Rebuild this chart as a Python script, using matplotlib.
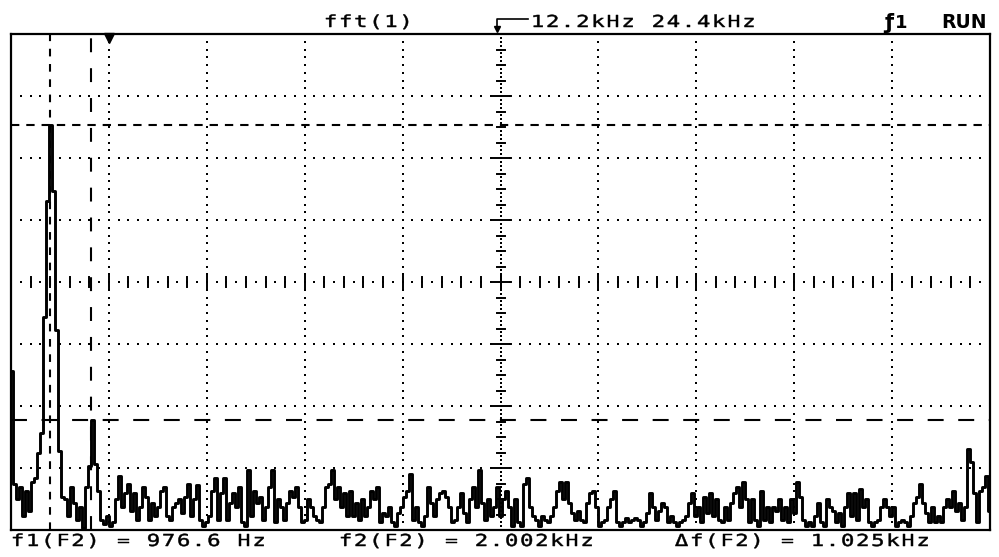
import numpy as np
import matplotlib
matplotlib.use("Agg")
import matplotlib.pyplot as plt
from matplotlib.lines import Line2D
from matplotlib.textpath import TextPath
from matplotlib.patches import PathPatch
from matplotlib.font_manager import FontProperties
from matplotlib.transforms import Affine2D

plt.rcParams["lines.scale_dashes"] = False

# FFT trace in screen counts (32 counts per vertical division), read off the display,
# one value every ~0.075 kHz from 0 to 24.4 kHz
spectrum = [
    82, 24, 16, 22, 7, 20, 10, 25, 27, 40,
    50, 110, 170, 209, 175, 103, 41, 17, 16, 7,
    22, 14, 5, 12, 1, 22, 33, 57, 34, 20,
    5, 3, 7, 2, 4, 16, 28, 12, 19, 24,
    10, 19, 5, 12, 22, 17, 5, 14, 7, 12,
    20, 22, 7, 5, 12, 14, 16, 9, 17, 24,
    7, 16, 23, 5, 2, 4, 7, 20, 27, 5,
    19, 27, 5, 14, 19, 12, 22, 4, 2, 31,
    7, 20, 14, 17, 5, 12, 22, 31, 4, 16,
    12, 5, 14, 20, 17, 22, 12, 4, 5, 16,
    12, 7, 5, 4, 12, 22, 24, 31, 16, 22,
    12, 19, 7, 20, 7, 14, 5, 16, 7, 12,
    20, 16, 22, 4, 9, 7, 12, 4, 2, 9,
    12, 17, 20, 29, 5, 12, 4, 2, 7, 22,
    14, 7, 16, 19, 20, 17, 12, 4, 5, 12,
    19, 9, 4, 16, 22, 12, 31, 14, 5, 16,
    7, 12, 22, 7, 16, 20, 12, 2, 16, 4,
    2, 24, 27, 12, 7, 5, 2, 7, 5, 4,
    7, 12, 20, 25, 16, 25, 14, 9, 5, 10,
    5, 4, 14, 19, 20, 12, 2, 4, 5, 12,
    16, 20, 4, 2, 4, 6, 4, 5, 6, 5,
    2, 4, 9, 19, 12, 5, 10, 14, 12, 4,
    7, 4, 2, 4, 5, 7, 14, 19, 7, 12,
    4, 17, 9, 19, 7, 16, 5, 4, 12, 5,
    14, 19, 22, 12, 25, 16, 4, 16, 5, 2,
    20, 5, 12, 4, 12, 10, 16, 5, 12, 4,
    16, 9, 25, 17, 5, 2, 4, 2, 7, 14,
    4, 2, 16, 12, 10, 4, 9, 2, 12, 19,
    7, 19, 5, 21, 12, 16, 4, 2, 4, 5,
    12, 16, 12, 7, 12, 2, 4, 5, 4, 2,
    7, 14, 17, 24, 14, 9, 4, 12, 4, 7,
    4, 12, 16, 12, 20, 10, 14, 5, 12, 42,
    35, 19, 4, 20, 22, 28, 10,
]

span_khz = 24.4
f1_khz = 0.9766      # cursor f1
f2_khz = 2.002       # cursor f2
y1_level = 209       # upper level cursor
y2_level = 57        # lower level cursor
marker_khz = 2.44    # top marker

title = "fft(1)"
freq_label = "12.2kHz 24.4kHz"
readouts = ["f1(F2) = 976.6 Hz", "f2(F2) = 2.002kHz", "\u0394f(F2) = 1.025kHz"]

W, H = 999, 557
fig = plt.figure(figsize=(W / 100, H / 100), dpi=100)
fig.patch.set_facecolor("white")
ax = fig.add_axes([11 / W, 1 - 530 / H, 979 / W, 496 / H])
ax.set_xlim(0, span_khz)
ax.set_ylim(0, 256)
ax.set_xticks([])
ax.set_yticks([])
for s in ax.spines.values():
    s.set_linewidth(1.6)

xdiv = span_khz / 10
ydiv = 32.0
xc, yc = 5 * xdiv, 4 * ydiv
px_x = span_khz / 979   # kHz per pixel
px_y = 256 / 496        # counts per pixel

dot = dict(marker="s", s=2.0, c="k", linewidths=0, zorder=1)
# dotted graticule
for i in range(1, 10):
    if i == 5:
        continue
    ys = np.arange(0, 256, ydiv / 8)
    ax.scatter(np.full_like(ys, i * xdiv), ys, **dot)
for j in range(1, 8):
    xs = np.arange(xdiv / 10, span_khz, xdiv / 10)
    if j == 4:
        continue
    ax.scatter(xs, np.full_like(xs, j * ydiv), **dot)

# centre axes with ticks
xs = np.arange(xdiv / 10, span_khz, xdiv / 10)
ax.scatter(xs, np.full_like(xs, yc), **dot)
ys = np.arange(ydiv / 16, 256, ydiv / 16)
ax.scatter(np.full_like(ys, xc), ys, **dot)
for k, x in enumerate(np.arange(xdiv / 5, span_khz - 1e-6, xdiv / 5)):
    h = 7.5 if (k + 1) % 5 == 0 else 5
    ax.plot([x, x], [yc - h * px_y, yc + h * px_y], color="k", lw=1.4)
for k, y in enumerate(np.arange(ydiv / 4, 256 - 1e-6, ydiv / 4)):
    w = 10 if (k + 1) % 4 == 0 else 4
    ax.plot([xc - w * px_x, xc + w * px_x], [y, y], color="k", lw=1.4)
ax.plot([xc, xc], [yc - 8 * px_y, yc + 8 * px_y], color="k", lw=1.4)

# cursors
ax.axhline(y1_level, color="k", lw=1.5, dashes=(6, 5))
ax.axhline(y2_level, color="k", lw=1.5, dashes=(11.5, 10.5))
ax.axvline(f1_khz, color="k", lw=1.5, dashes=(5.5, 5.5))
ax.axvline(f2_khz, color="k", lw=1.5, dashes=(10, 11.5))

# trace
freqs = np.linspace(0, span_khz, len(spectrum))
ax.step(freqs, spectrum, where="mid", color="k", lw=2.1, zorder=5)

ax.plot(marker_khz, 256 - 3.5 * px_y, marker="v", ms=7, color="k", clip_on=False, zorder=6)


def fpos(x, y):
    return x / W, 1 - y / H


# pixel coordinates measured from the top-left corner of the image
pix = Affine2D().scale(1 / W, -1 / H).translate(0, 1) + fig.transFigure
mono_font = FontProperties(family="DejaVu Sans Mono")


def mono(s, x0, base, pitch=15.1, em=16.5, stretch=1.35):
    adv = 0.602 * em * stretch
    for i, ch in enumerate(s):
        if ch == " ":
            continue
        tp = TextPath((0, 0), ch, size=em, prop=mono_font)
        cx = x0 + pitch * (i + 0.5) - adv / 2
        t = Affine2D().scale(stretch, -1).translate(cx, base)
        fig.add_artist(PathPatch(t.transform_path(tp), fc="k", ec="k", lw=0.35, transform=pix))


mono(title, 323, 27)
mono(freq_label, 530, 27)
mono(readouts[0], 10, 546)
mono(readouts[1], 338, 546)
mono(readouts[2], 674, 546)

# ground-reference arrow next to frequency label
fig.add_artist(Line2D(*zip(fpos(528, 19), fpos(497, 19), fpos(497, 29)), color="k", lw=1.2,
                      transform=fig.transFigure))
fig.add_artist(Line2D([fpos(497, 29)[0]], [fpos(497, 29)[1]], marker="v", ms=4, color="k",
                      transform=fig.transFigure))

fig.text(*fpos(889, 29), "\u0192", ha="center", va="baseline", fontsize=15, fontweight="bold")
fig.text(*fpos(901, 28), "1", ha="center", va="baseline", fontsize=13, fontweight="bold")
fig.text(*fpos(964, 28), "RUN", ha="center", va="baseline", fontsize=13.5, fontweight="bold")

fig.savefig("out.png", dpi=100)
